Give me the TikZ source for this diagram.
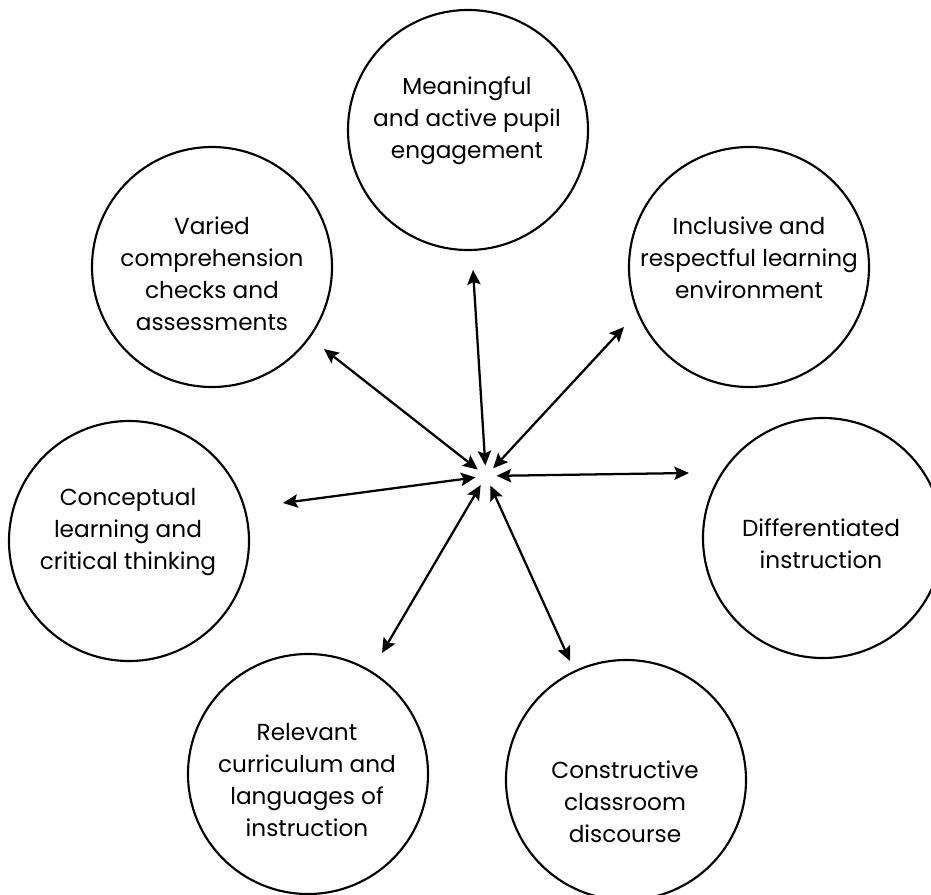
\documentclass[tikz,border=0pt]{standalone}
\usepackage{fontspec}
\setmainfont{Poppins}
\usetikzlibrary{arrows.meta}

\tikzset{every picture/.style={line width=0.75pt}}
\tikzset{
  ring/.style={draw, circle, line width=1.6pt, minimum size=180pt, inner sep=0pt},
  lbl/.style={align=center, inner sep=0.75pt, font=\fontsize{17.4}{24}\selectfont},
  hubtip/.tip={Stealth[length=11pt,width=10pt,inset=2pt]},
  link/.style={line width=1.7pt, hubtip-hubtip},
}

\begin{document}
\begin{tikzpicture}[x=0.75pt,y=0.75pt,yscale=-1,xscale=1]
	\useasboundingbox (0,0) rectangle (931,895);

	%Shape: Circle
	\node [ring] (engage) at (468,130) {};
	\node [ring] (varied) at (212,267) {};
	\node [ring] (inclusive) at (749,267) {};
	\node [ring] (concept) at (129,541) {};
	\node [ring] (differ) at (823,538) {};
	\node [ring] (relevant) at (308,774) {};
	\node [ring] (discourse) at (626,780) {};

	% Text Node
	\node [lbl] (engage-t) at (467,121) {Meaningful\\and active pupil\\engagement};
	\node [lbl] (varied-t) at (212,274) {Varied\\comprehension\\checks and\\assessments};
	\node [lbl] (inclusive-t) at (749,258) {Inclusive and\\respectful learning\\environment};
	\node [lbl] (concept-t) at (128,532) {Conceptual\\learning and\\critical thinking};
	\node [lbl] (differ-t) at (821,544) {Differentiated\\instruction};
	\node [lbl] (relevant-t) at (307,780) {Relevant\\curriculum and\\languages of\\instruction};
	\node [lbl] (discourse-t) at (625,802) {Constructive\\classroom\\discourse};

	%Hub and arrow ends
	\node [circle, minimum size=15pt, inner sep=0pt] (hub) at (486,476) {};
	\coordinate (engage-e) at (473,270);
	\coordinate (varied-e) at (324,349);
	\coordinate (inclusive-e) at (624,327);
	\coordinate (concept-e) at (283,503);
	\coordinate (differ-e) at (689,473);
	\coordinate (relevant-e) at (382,653);
	\coordinate (discourse-e) at (570,661);

	%Straight Lines
	\foreach \e in {engage,varied,inclusive,concept,differ,relevant,discourse}
		\draw [link] (hub) -- (\e-e);

\end{tikzpicture}
\end{document}
